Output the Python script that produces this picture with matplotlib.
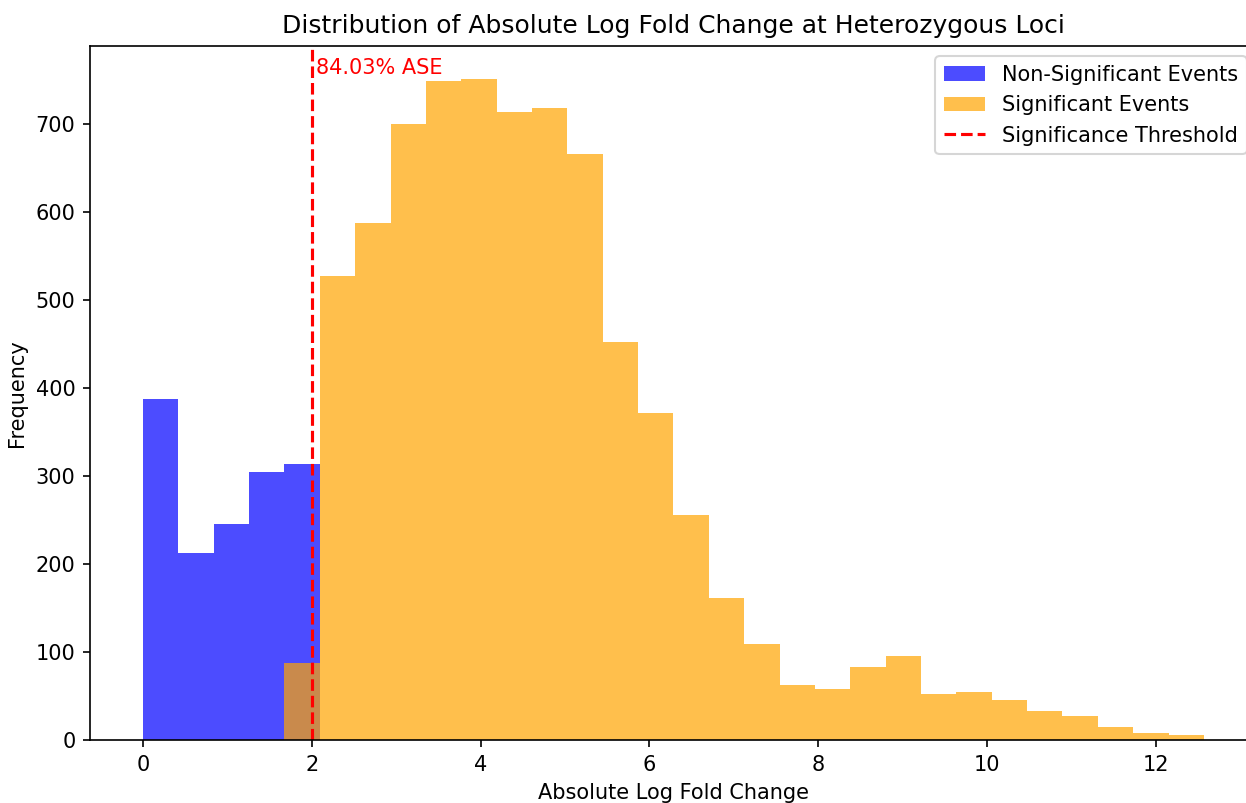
import numpy as np
import matplotlib
matplotlib.use("Agg")
import matplotlib.pyplot as plt

# shared histogram bin edges (30 bins over 0 .. max |logFC|)
bin_edges = np.linspace(0, 12.57, 31)

# counts, one per bin
nonsig_counts = [388, 212, 245, 304, 314] + [0] * 25
sig_counts = [0, 0, 0, 0, 87,
              527, 588, 700, 749, 751, 714, 718, 666, 452, 372,
              256, 161, 109, 62, 58, 83, 96, 52, 54, 45,
              33, 27, 15, 8, 6]

threshold = 2
ase_label = "84.03% ASE"

fig = plt.figure(figsize=(1246 / 150, 803 / 150), dpi=150)
# the right spine sits just past the image edge in the reference
ax = fig.add_axes([90 / 1246, 1 - 740 / 803, 1167 / 1246, 694 / 803])

centers = bin_edges[:-1] + np.diff(bin_edges) / 2
ax.hist(centers, bins=bin_edges, weights=nonsig_counts, color='blue', alpha=0.7,
        label='Non-Significant Events')
ax.hist(centers, bins=bin_edges, weights=sig_counts, color='orange', alpha=0.7,
        label='Significant Events')
ax.axvline(threshold, color='red', linestyle='--', label='Significance Threshold')
ax.text(threshold + 0.05, 757, ase_label, color='red')

ax.set_title('Distribution of Absolute Log Fold Change at Heterozygous Loci')
ax.set_xlabel('Absolute Log Fold Change')
ax.set_ylabel('Frequency')
ax.legend(loc='upper right')

fig.savefig('out.png', dpi=150)
